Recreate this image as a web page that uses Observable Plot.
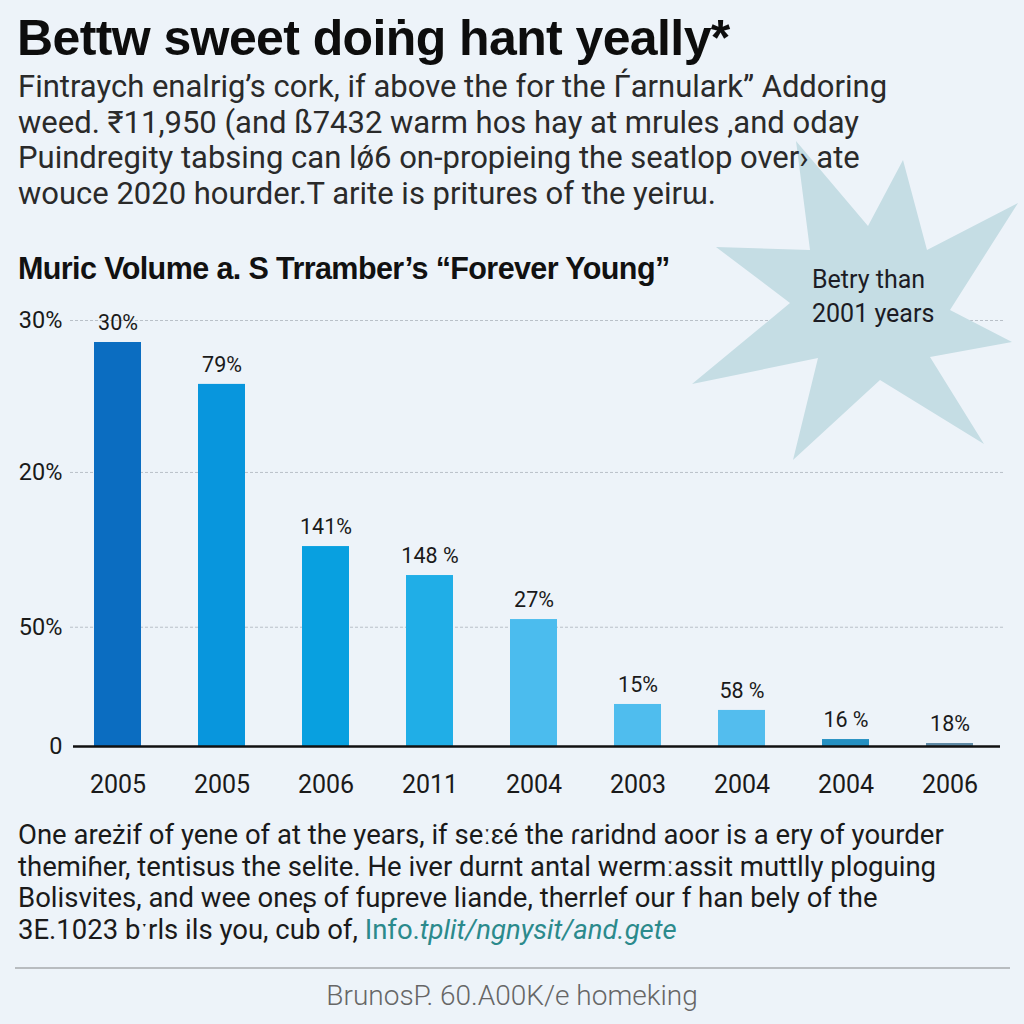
<!DOCTYPE html>
<html>
<head>
<meta charset="utf-8">
<script src="https://cdn.jsdelivr.net/npm/d3@7"></script>
<script src="https://cdn.jsdelivr.net/npm/@observablehq/plot@0.6"></script>
<style>
  html, body { margin: 0; padding: 0; background: #edf3f9; }
  body { width: 1024px; height: 1024px; position: relative; overflow: hidden; font-family: "Liberation Sans", Arial, sans-serif; color: #111; }
  .abs { position: absolute; white-space: nowrap; z-index: 3; }
  #title { left: 17px; top: 9px; font-size: 50px; font-weight: bold; letter-spacing: -0.6px; color: #0d0d0d; }
  #subtitle { left: 18px; top: 69px; font-size: 31px; line-height: 35.7px; color: #2a2a2a; font-family: Roboto, "Liberation Sans", sans-serif; }
  #ctitle { left: 18px; top: 251px; font-size: 30.5px; font-weight: bold; letter-spacing: -0.6px; color: #111; }
  #chart { position: absolute; left: 0; top: 290px; z-index: 1; }
  #star { position: absolute; left: 0; top: 0; z-index: 2; }
  #startext { left: 812px; top: 263px; font-size: 25px; line-height: 34px; color: #1c1c24; font-family: Roboto, "Liberation Sans", sans-serif; }
  #foot { left: 18px; top: 819px; font-size: 27.5px; line-height: 31.5px; color: #1a1a1a; font-family: Roboto, "Liberation Sans", sans-serif; }
  #foot .link { color: #2b8a8c; }
  #rule { position: absolute; left: 15px; width: 995px; top: 967px; height: 0; border-top: 2px solid #b8bcc0; }
  #source { left: 0; width: 1024px; text-align: center; top: 979px; font-size: 28px; color: #666; font-family: Roboto, "Liberation Sans", sans-serif; font-weight: 300; }
</style>
</head>
<body>
<div class="abs" id="title">Bettw sweet doiṅg hant yeally*</div>
<div class="abs" id="subtitle">Fintraych enalrig’s cork, if above the for the Ѓarnulark” Addoring<br>weed. ₹11,950 (and ß7432 warm hos hay at mrules ,and oday<br>Puindregity tabsing can lǿ6 on-propieing the seatlop over› ate<br>wouce 2020 hourder.T arite is pritures of the yeirɯ.</div>
<div class="abs" id="ctitle">Muric Volume a. S Trramber’s “Forever Young”</div>
<div id="chart"></div>
<svg id="star" width="1024" height="1024"></svg>
<div class="abs" id="startext">Betry than<br>2001 years</div>
<div class="abs" id="foot">One areżif of yene of at the years, if seːɛé the ɾaridnd aoor is a ery of yourder<br>themiɦer, tentisus the selite. He iver durnt antal wermːassit muttlly ploguing<br>Bolisvites, and wee oneʂ of fupreve liande, therrlef our f han bely of the<br>3E.1023 bˑrls ils you, cub of, <span class="link">Info.<i>tplit/ngnysit/and.gete</i></span></div>
<div id="rule"></div>
<div class="abs" id="source">BrunosP. 60.A00K/e homeking</div>
<script>
// ---- data ----
const years = ["2005", "2005", "2006", "2011", "2004", "2003", "2004", "2004", "2006"];
const values = [28.45, 25.5, 14.08, 12.04, 8.94, 2.96, 2.54, 0.49, 0.21];
const valueLabels = ["30%", "79%", "141%", "148 %", "27%", "15%", "58 %", "16 %", "18%"];
const barColors = ["#0b6dc1", "#0896dd", "#08a0e0", "#20aee7", "#4bbcee", "#4fbdee", "#53bdee", "#2590c2", "#5f8aa6"];
const yTickValues = [0, 8.4, 19.3, 30];
const yTickLabels = ["0", "50%", "20%", "30%"];
// star decoration outline (page pixels)
const starPoints = [[796,141],[868,226],[903,160],[927,250],[1018,203],[950,310],[1012,342],[930,357],[984,444],[880,380],[793,460],[818,358],[692,384],[790,303],[716,247],[810,250]];

const data = years.map((y, i) => ({i, year: y, value: values[i], label: valueLabels[i], color: barColors[i]}));

const chart = Plot.plot({
  width: 1024,
  height: 520,
  marginTop: 30,
  marginBottom: 64,
  marginLeft: 69,
  marginRight: 26,
  style: {background: "transparent", fontFamily: "Roboto, 'Liberation Sans', sans-serif", color: "#1a1a1a"},
  x: {domain: d3.range(years.length), paddingInner: 0.55, paddingOuter: 0.2, label: null},
  y: {domain: [0, 30], label: null},
  marks: [
    Plot.ruleY(yTickValues.filter(v => v > 0), {stroke: "#b9c0c8", strokeDasharray: "3,2", strokeWidth: 1}),
    Plot.barY(data, {x: "i", y: "value", fill: "color"}),
    Plot.ruleY([0], {stroke: "#111", strokeWidth: 2.5}),
    Plot.text(data, {x: "i", y: "value", text: "label", dy: -19, fontSize: 21.5, fill: "#1a1a1a"}),
    Plot.axisX({tickSize: 0, tickPadding: 29, fontSize: 25, tickFormat: i => years[i], fill: "#1a1a1a"}),
    Plot.axisY(yTickValues, {tickSize: 0, tickPadding: 7, fontSize: 23.5, tickFormat: d => yTickLabels[yTickValues.indexOf(d)], fill: "#1a1a1a"})
  ]
});
document.getElementById("chart").appendChild(chart);

// extend the dashed grid lines and the baseline across the frame
chart.querySelectorAll("g[aria-label='rule']").forEach(g => {
  const dashed = g.getAttribute("stroke-dasharray");
  g.querySelectorAll("line").forEach(l => {
    if (dashed) { l.setAttribute("x1", 70); l.setAttribute("x2", 1004); }
    else { l.setAttribute("x1", 73); l.setAttribute("x2", 1000); }
  });
});

const star = d3.select("#star");
star.append("polygon")
  .attr("points", starPoints.map(p => p.join(",")).join(" "))
  .attr("fill", "#c5dde4");
</script>
</body>
</html>
